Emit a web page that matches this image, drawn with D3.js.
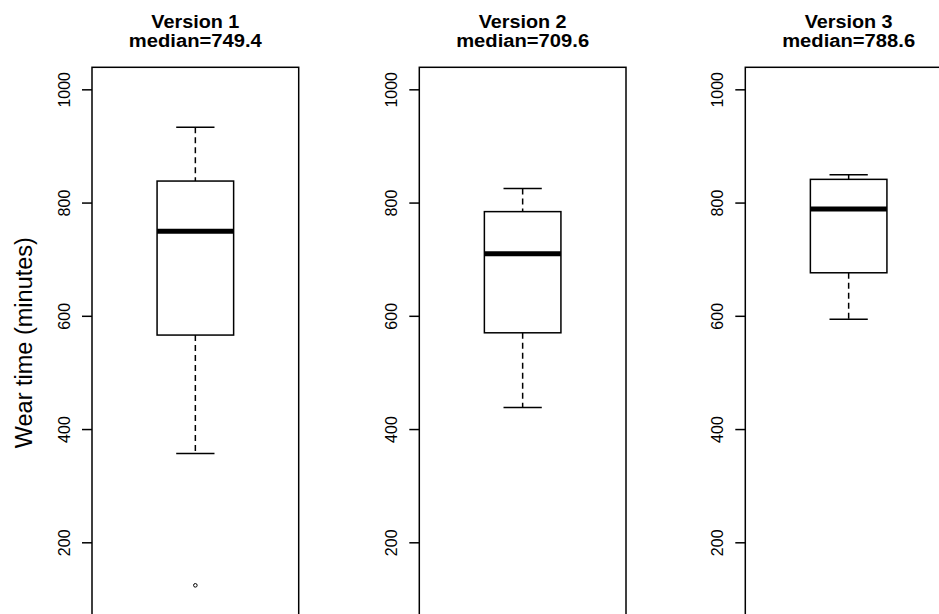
<!DOCTYPE html>
<html>
<head>
<meta charset="utf-8">
<script src="https://cdn.jsdelivr.net/npm/d3@7"></script>
<style>
  html, body { margin: 0; padding: 0; background: #fff; }
  svg { display: block; }
</style>
</head>
<body>
<svg id="chart" width="939" height="614"></svg>
<script>
// ---- data ----
const versions = ["Version 1", "Version 2", "Version 3"];
const medians = [749.4, 709.6, 788.6];
const q1 = [566, 570, 676];
const q3 = [838, 784, 841];
const whiskerLow = [357, 438, 594];
const whiskerHigh = [933, 825, 849];
const outliers = [[124], [], []];
const yTicks = [200, 400, 600, 800, 1000];
const yLabel = "Wear time (minutes)";

// ---- layout ----
const svg = d3.select("#chart");
const panelLefts = [92, 419.3, 745.3];
const panelW = 206.7;
const plotTop = 67.3, plotBottom = 618;

const y = d3.scaleLinear().domain([66.3, 1038.9]).range([plotBottom, plotTop]);

versions.forEach((name, i) => {
  const x = d3.scaleLinear().domain([0.46, 1.54]).range([panelLefts[i], panelLefts[i] + panelW]);
  const g = svg.append("g");

  // frame
  g.append("rect")
    .attr("x", x(0.46)).attr("y", plotTop)
    .attr("width", x(1.54) - x(0.46)).attr("height", plotBottom - plotTop)
    .attr("fill", "none").attr("stroke", "#000").attr("stroke-width", 1.5);

  // y axis
  const axis = d3.axisLeft(y).tickValues(yTicks).tickSize(10).tickPadding(0).tickFormat(d3.format("d"));
  const ag = g.append("g").attr("transform", `translate(${x(0.46)},0)`).call(axis);
  ag.select(".domain").remove();
  ag.selectAll(".tick line").attr("stroke", "#000").attr("stroke-width", 1.5);
  ag.selectAll(".tick text")
    .attr("x", null).attr("dy", null)
    .attr("transform", "translate(-22,0) rotate(-90)")
    .attr("text-anchor", "middle")
    .attr("font-family", "Liberation Sans, Arial, sans-serif")
    .attr("font-size", 16)
    .attr("fill", "#000");

  // whiskers (dashed)
  g.append("line")
    .attr("x1", x(1)).attr("x2", x(1))
    .attr("y1", y(whiskerHigh[i])).attr("y2", y(q3[i]))
    .attr("stroke", "#000").attr("stroke-width", 1.5).attr("stroke-dasharray", "6,4");
  g.append("line")
    .attr("x1", x(1)).attr("x2", x(1))
    .attr("y1", y(q1[i])).attr("y2", y(whiskerLow[i]))
    .attr("stroke", "#000").attr("stroke-width", 1.5).attr("stroke-dasharray", "6,4");

  // staples
  [whiskerHigh[i], whiskerLow[i]].forEach(v => {
    g.append("line")
      .attr("x1", x(0.9)).attr("x2", x(1.1))
      .attr("y1", y(v)).attr("y2", y(v))
      .attr("stroke", "#000").attr("stroke-width", 1.5);
  });

  // box
  g.append("rect")
    .attr("x", x(0.8)).attr("y", y(q3[i]))
    .attr("width", x(1.2) - x(0.8)).attr("height", y(q1[i]) - y(q3[i]))
    .attr("fill", "#fff").attr("stroke", "#000").attr("stroke-width", 1.5);

  // median
  g.append("line")
    .attr("x1", x(0.8)).attr("x2", x(1.2))
    .attr("y1", y(medians[i])).attr("y2", y(medians[i]))
    .attr("stroke", "#000").attr("stroke-width", 5);

  // outliers
  g.selectAll("circle.out").data(outliers[i]).enter().append("circle")
    .attr("class", "out")
    .attr("cx", x(1)).attr("cy", d => y(d)).attr("r", 1.8)
    .attr("fill", "none").attr("stroke", "#000").attr("stroke-width", 1);

  // title
  const cx = x(1);
  g.append("text")
    .attr("x", cx).attr("y", 27.5)
    .attr("text-anchor", "middle")
    .attr("font-family", "Liberation Sans, Arial, sans-serif")
    .attr("font-weight", "bold").attr("font-size", 17.5)
    .attr("textLength", 88).attr("lengthAdjust", "spacingAndGlyphs")
    .text(name);
  g.append("text")
    .attr("x", cx).attr("y", 47)
    .attr("text-anchor", "middle")
    .attr("font-family", "Liberation Sans, Arial, sans-serif")
    .attr("font-weight", "bold").attr("font-size", 17.5)
    .attr("textLength", 133).attr("lengthAdjust", "spacingAndGlyphs")
    .text("median=" + medians[i].toFixed(1));
});

// y label
svg.append("text")
  .attr("transform", `translate(32,${(plotTop + plotBottom) / 2}) rotate(-90)`)
  .attr("text-anchor", "middle")
  .attr("font-family", "Liberation Sans, Arial, sans-serif")
  .attr("font-size", 23.5)
  .attr("fill", "#000")
  .text(yLabel);
</script>
</body>
</html>
